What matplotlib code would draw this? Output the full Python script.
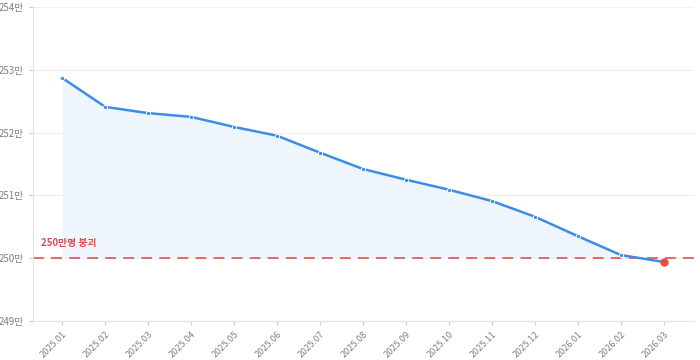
import matplotlib
matplotlib.use("Agg")
import matplotlib.pyplot as plt
import numpy as np

plt.rcParams["font.family"] = ["Noto Sans CJK KR", "DejaVu Sans"]

months = ["2025.01", "2025.02", "2025.03", "2025.04", "2025.05", "2025.06",
          "2025.07", "2025.08", "2025.09", "2025.10", "2025.11", "2025.12",
          "2026.01", "2026.02", "2026.03"]
population = [252.87, 252.41, 252.31, 252.25, 252.09, 251.95, 251.68, 251.42,
              251.25, 251.09, 250.91, 250.66, 250.35, 250.05, 249.94]
threshold = 250
threshold_label = "250만명 붕괴"
y_ticks = [249, 250, 251, 252, 253, 254]

line_c = "#3a8ee6"
red = "#e8484a"
grey = "#808080"

fig = plt.figure(figsize=(7, 3.6), dpi=100)
ax = fig.add_axes([33 / 700, 39 / 360, 661 / 700, 314 / 360])

x = np.arange(len(months))
ax.fill_between(x, population, threshold, where=np.array(population) >= threshold,
                interpolate=True, color="#eef5fd", lw=0, zorder=1)
ax.plot(x, population, color=line_c, lw=1.8, zorder=3,
        marker="o", ms=3, mfc=line_c, mec="#ffffff", mew=0.6)
ax.plot(x[-1], population[-1], "o", color=red, ms=5, zorder=4)
ax.axhline(threshold, color=red, lw=1.3, ls=(0, (6, 4)), alpha=0.9, zorder=2)
ax.text(-0.5, threshold + 0.17, threshold_label, color=red, fontsize=7,
        fontweight="bold", ha="left", va="bottom")

ax.set_xlim(-0.68, len(months) - 0.3)
ax.set_ylim(249, 254)
ax.set_yticks(y_ticks)
ax.set_yticklabels([f"{v}만" for v in y_ticks])
ax.set_xticks(x)
ax.set_xticklabels(months, rotation=45, ha="right", rotation_mode="anchor")
ax.tick_params(axis="y", labelsize=7)
ax.tick_params(axis="x", labelsize=6.5)
ax.tick_params(axis="both", colors="#cccccc", labelcolor=grey,
               length=3, width=0.8)
ax.grid(axis="y", color="#eeeeee", lw=0.8)
ax.set_axisbelow(True)
for side in ("top", "right"):
    ax.spines[side].set_visible(False)
for side in ("left", "bottom"):
    ax.spines[side].set_color("#e5e5e5")

fig.savefig("out.png", dpi=100)
